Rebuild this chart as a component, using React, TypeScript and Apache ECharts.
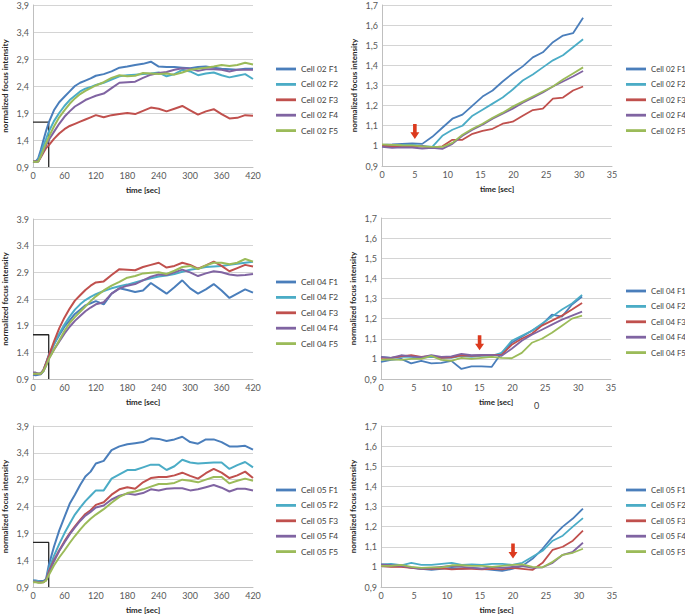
import React, { useEffect, useRef } from "react";
import * as echarts from "echarts";

// time axes
const longTimes = [0, 5, 10, 15, 20, 25, 30, 40, 50, 60, 70, 80, 90, 100, 110, 120, 135, 150, 165, 180, 195, 210, 225, 240, 255, 270, 285, 300, 315, 330, 345, 360, 375, 390, 405, 420];
const shortTimes = [0, 1.53, 3.06, 4.59, 6.12, 7.65, 9.18, 10.71, 12.24, 13.77, 15.3, 16.83, 18.36, 19.89, 21.42, 22.95, 24.48, 26.01, 27.54, 29.07, 30.6];

const longYTicks = [0.9, 1.4, 1.9, 2.4, 2.9, 3.4, 3.9];
const shortYTicks = [0.9, 1, 1.1, 1.2, 1.3, 1.4, 1.5, 1.6, 1.7];

// Cell 02, long time course
const c02L_F1 = [1.0, 1.0, 1.06, 1.22, 1.4, 1.57, 1.72, 1.95, 2.1, 2.2, 2.3, 2.4, 2.46, 2.5, 2.54, 2.59, 2.62, 2.67, 2.74, 2.76, 2.79, 2.81, 2.85, 2.76, 2.75, 2.75, 2.74, 2.73, 2.75, 2.76, 2.74, 2.72, 2.71, 2.7, 2.72, 2.72];
const c02L_F2 = [1.0, 1.0, 1.03, 1.15, 1.3, 1.42, 1.55, 1.75, 1.9, 2.03, 2.14, 2.22, 2.3, 2.35, 2.38, 2.42, 2.46, 2.52, 2.58, 2.6, 2.61, 2.62, 2.63, 2.65, 2.58, 2.62, 2.7, 2.67, 2.6, 2.63, 2.65, 2.6, 2.56, 2.59, 2.62, 2.53];
const c02L_F3 = [1.0, 1.0, 1.0, 1.08, 1.17, 1.25, 1.3, 1.42, 1.52, 1.6, 1.66, 1.7, 1.74, 1.78, 1.82, 1.86, 1.82, 1.86, 1.88, 1.9, 1.88, 1.94, 2.0, 1.98, 1.93, 1.98, 2.03, 1.95, 1.87, 1.93, 1.97, 1.88, 1.8, 1.81, 1.86, 1.85];
const c02L_F4 = [1.0, 0.99, 1.0, 1.1, 1.2, 1.3, 1.4, 1.55, 1.7, 1.83, 1.93, 2.02, 2.08, 2.14, 2.18, 2.22, 2.26, 2.36, 2.46, 2.47, 2.48, 2.55, 2.61, 2.64, 2.66, 2.7, 2.73, 2.72, 2.68, 2.71, 2.71, 2.7, 2.67, 2.7, 2.7, 2.7];
const c02L_F5 = [1.0, 0.99, 1.0, 1.1, 1.22, 1.34, 1.45, 1.65, 1.82, 1.95, 2.07, 2.17, 2.25, 2.31, 2.36, 2.41, 2.47, 2.55, 2.6, 2.58, 2.59, 2.64, 2.63, 2.62, 2.63, 2.61, 2.65, 2.7, 2.72, 2.74, 2.76, 2.79, 2.77, 2.79, 2.83, 2.8];

// Cell 04, long time course
const c04L_F1 = [0.98, 0.97, 0.98, 0.99, 1.05, 1.2, 1.35, 1.55, 1.72, 1.88, 2.0, 2.12, 2.2, 2.28, 2.32, 2.36, 2.3, 2.5, 2.6, 2.57, 2.53, 2.56, 2.7, 2.6, 2.5, 2.62, 2.75, 2.6, 2.5, 2.58, 2.68, 2.56, 2.42, 2.5, 2.58, 2.52];
const c04L_F2 = [1.0, 1.0, 1.0, 1.0, 1.07, 1.2, 1.33, 1.55, 1.75, 1.92, 2.07, 2.2, 2.3, 2.38, 2.44, 2.49, 2.55, 2.6, 2.64, 2.67, 2.71, 2.75, 2.79, 2.82, 2.84, 2.87, 2.91, 2.95, 2.97, 3.0, 3.01, 3.02, 3.04, 3.06, 3.08, 3.1];
const c04L_F3 = [1.0, 1.0, 1.0, 1.0, 1.07, 1.2, 1.33, 1.6, 1.85, 2.05, 2.22, 2.37, 2.47, 2.57, 2.65, 2.71, 2.73, 2.85, 2.96, 2.95, 2.94, 3.0, 3.04, 3.08, 2.99, 3.02, 3.08, 3.04, 2.97, 3.03, 3.1, 3.02, 2.92, 2.98, 3.04, 3.01];
const c04L_F4 = [1.02, 1.02, 1.0, 1.01, 1.05, 1.15, 1.28, 1.45, 1.6, 1.75, 1.88, 1.99, 2.08, 2.17, 2.24, 2.3, 2.34, 2.5, 2.6, 2.65, 2.68, 2.75, 2.82, 2.86, 2.85, 2.9, 2.95, 2.9, 2.83, 2.88, 2.92, 2.9, 2.86, 2.84, 2.85, 2.87];
const c04L_F5 = [1.0, 1.0, 1.0, 1.0, 1.05, 1.15, 1.27, 1.45, 1.62, 1.8, 1.95, 2.06, 2.16, 2.26, 2.36, 2.45, 2.56, 2.65, 2.72, 2.8, 2.83, 2.88, 2.89, 2.9, 2.87, 2.93, 3.0, 3.02, 2.96, 3.03, 3.08, 3.08, 3.05, 3.08, 3.15, 3.1];

// Cell 05, long time course
const c05L_F1 = [1.02, 1.02, 1.01, 1.01, 1.01, 1.05, 1.3, 1.65, 1.95, 2.2, 2.45, 2.62, 2.8, 2.96, 3.05, 3.2, 3.25, 3.45, 3.52, 3.56, 3.58, 3.6, 3.67, 3.66, 3.62, 3.65, 3.7, 3.6, 3.57, 3.65, 3.65, 3.6, 3.52, 3.52, 3.53, 3.46];
const c05L_F2 = [1.02, 1.01, 1.01, 1.0, 1.0, 1.03, 1.22, 1.48, 1.7, 1.9, 2.08, 2.25, 2.38, 2.5, 2.6, 2.7, 2.7, 2.92, 3.0, 3.08, 3.08, 3.13, 3.18, 3.18, 3.08, 3.15, 3.27, 3.22, 3.2, 3.21, 3.22, 3.22, 3.1, 3.17, 3.23, 3.13];
const c05L_F3 = [1.0, 1.0, 0.99, 0.99, 0.99, 1.03, 1.18, 1.4, 1.58, 1.75, 1.9, 2.03, 2.15, 2.26, 2.33, 2.43, 2.48, 2.62, 2.72, 2.76, 2.73, 2.85, 2.93, 2.95, 2.95, 2.98, 3.03, 2.97, 2.92, 3.02, 3.1, 3.03, 2.93, 2.98, 3.05, 2.93];
const c05L_F4 = [1.0, 1.0, 0.99, 0.99, 1.0, 1.03, 1.15, 1.38, 1.57, 1.73, 1.88, 2.01, 2.13, 2.23, 2.3, 2.38, 2.42, 2.53, 2.6, 2.64, 2.62, 2.65, 2.72, 2.7, 2.73, 2.74, 2.74, 2.7, 2.72, 2.76, 2.8, 2.75, 2.68, 2.73, 2.73, 2.7];
const c05L_F5 = [0.99, 0.99, 0.98, 0.98, 0.99, 1.02, 1.12, 1.3, 1.45, 1.58, 1.72, 1.85, 1.97, 2.08, 2.17, 2.25, 2.35, 2.47, 2.58, 2.65, 2.68, 2.72, 2.77, 2.82, 2.82, 2.84, 2.9, 2.88, 2.85, 2.9, 2.95, 2.95, 2.83, 2.88, 2.92, 2.88];

// Cell 02, short time course
const c02S_F1 = [1.005, 1.007, 1.01, 1.012, 1.01, 1.045, 1.09, 1.135, 1.155, 1.2, 1.245, 1.275, 1.32, 1.36, 1.395, 1.44, 1.465, 1.515, 1.548, 1.56, 1.637];
const c02S_F2 = [1.0, 1.003, 1.005, 1.005, 1.0, 0.995, 1.05, 1.08, 1.1, 1.15, 1.18, 1.21, 1.24, 1.28, 1.325, 1.355, 1.39, 1.425, 1.45, 1.49, 1.53];
const c02S_F3 = [1.0, 0.997, 0.998, 1.0, 0.997, 0.993, 0.998, 1.03, 1.03, 1.06, 1.075, 1.085, 1.11, 1.12, 1.15, 1.178, 1.185, 1.235, 1.24, 1.275, 1.295];
const c02S_F4 = [0.995, 0.99, 0.993, 0.992, 0.987, 0.99, 0.985, 1.01, 1.05, 1.08, 1.105, 1.135, 1.16, 1.185, 1.215, 1.24, 1.265, 1.295, 1.32, 1.345, 1.372];
const c02S_F5 = [1.007, 1.005, 1.003, 1.002, 0.998, 0.995, 0.995, 1.015, 1.055, 1.085, 1.11, 1.14, 1.165, 1.195, 1.22, 1.245, 1.27, 1.295, 1.33, 1.36, 1.39];

// Cell 04, short time course
const c04S_F1 = [0.985, 0.995, 1.0, 0.978, 0.99, 0.978, 0.98, 0.99, 0.95, 0.963, 0.963, 0.96, 1.03, 1.08, 1.11, 1.14, 1.17, 1.22, 1.21, 1.27, 1.31];
const c04S_F2 = [1.01, 1.005, 1.01, 1.01, 1.005, 1.01, 1.005, 1.005, 1.015, 1.01, 1.015, 1.015, 1.03, 1.09, 1.115, 1.14, 1.175, 1.21, 1.245, 1.275, 1.318];
const c04S_F3 = [1.005, 1.005, 1.012, 1.018, 1.01, 1.015, 1.005, 1.008, 1.018, 1.015, 1.018, 1.02, 1.02, 1.07, 1.1, 1.125, 1.165, 1.19, 1.215, 1.245, 1.278];
const c04S_F4 = [1.01, 1.005, 1.018, 1.012, 1.008, 1.018, 1.01, 1.012, 1.025, 1.018, 1.02, 1.02, 1.015, 1.05, 1.09, 1.12, 1.145, 1.17, 1.195, 1.215, 1.235];
const c04S_F5 = [0.995, 0.998, 0.995, 1.0, 1.0, 1.015, 0.995, 0.99, 1.005, 1.0, 1.005, 1.01, 1.005, 1.003, 1.03, 1.08, 1.1, 1.13, 1.165, 1.2, 1.215];

// Cell 05, short time course
const c05S_F1 = [1.01, 1.005, 1.005, 0.995, 0.99, 0.985, 0.99, 0.995, 0.99, 0.995, 0.99, 0.985, 0.98, 0.99, 1.005, 1.04, 1.09, 1.15, 1.2, 1.24, 1.29];
const c05S_F2 = [1.012, 1.015, 1.008, 1.02, 1.01, 1.01, 1.015, 1.02, 1.01, 1.012, 1.01, 1.015, 1.015, 1.01, 1.02, 1.05, 1.08, 1.13, 1.155, 1.2, 1.242];
const c05S_F3 = [1.005, 1.0, 1.0, 0.995, 0.99, 0.99, 0.993, 0.988, 0.99, 0.99, 0.988, 0.99, 0.988, 0.995, 0.99, 0.985, 1.02, 1.085, 1.1, 1.13, 1.18];
const c05S_F4 = [1.012, 1.008, 1.005, 0.998, 0.99, 0.995, 1.0, 1.005, 1.0, 0.995, 0.99, 1.0, 0.995, 1.0, 1.005, 0.995, 0.998, 1.02, 1.06, 1.075, 1.12];
const c05S_F5 = [1.005, 1.005, 1.01, 1.0, 0.995, 0.998, 0.998, 1.008, 1.008, 1.005, 1.005, 1.0, 1.005, 1.01, 1.012, 1.0, 0.998, 1.025, 1.06, 1.07, 1.09];

// stimulus box (long panels) and arrow markers (short panels)
const stimulusBox = [[0, 1.73], [30, 1.73], [30, 0.9]];
const arrowCell02 = [5, 1.072];
const arrowCell04 = [15, 1.08];
const arrowCell05 = [20, 1.079];

const fNames = ["F1", "F2", "F3", "F4", "F5"];
const colors = ["#4a7ebb", "#4bacc6", "#c0504d", "#8064a2", "#9bbb59"];

const FONT = "Lato, 'Open Sans', sans-serif";

const panels = [
  { cell: "02", long: true, series: [c02L_F1, c02L_F2, c02L_F3, c02L_F4, c02L_F5], comma: true, grid: { left: 31, top: 5, width: 222, height: 162 }, legend: { left: 276, top: 64 } },
  { cell: "02", long: false, series: [c02S_F1, c02S_F2, c02S_F3, c02S_F4, c02S_F5], comma: true, arrow: arrowCell02, grid: { left: 382, top: 5, width: 230, height: 161 }, legend: { left: 626, top: 64 } },
  { cell: "04", long: true, series: [c04L_F1, c04L_F2, c04L_F3, c04L_F4, c04L_F5], comma: false, grid: { left: 31, top: 219, width: 222, height: 160 }, legend: { left: 276, top: 277 } },
  { cell: "04", long: false, series: [c04S_F1, c04S_F2, c04S_F3, c04S_F4, c04S_F5], comma: true, arrow: arrowCell04, grid: { left: 381, top: 218, width: 230, height: 161 }, legend: { left: 626, top: 286 } },
  { cell: "05", long: true, series: [c05L_F1, c05L_F2, c05L_F3, c05L_F4, c05L_F5], comma: true, grid: { left: 31, top: 426, width: 222, height: 161 }, legend: { left: 276, top: 485 } },
  { cell: "05", long: false, series: [c05S_F1, c05S_F2, c05S_F3, c05S_F4, c05S_F5], comma: true, arrow: arrowCell05, grid: { left: 381, top: 426, width: 231, height: 161 }, legend: { left: 626, top: 485 } },
];

const arrowPath = "path://M3,0 L7,0 L7,9 L10,9 L5,16 L0,9 L3,9 Z";
const legendIcon = "path://M0,0 M0,3.6 L20,3.6 L20,6.4 L0,6.4 Z M20,10";

function buildOption() {
  const grid: any[] = [];
  const xAxis: any[] = [];
  const yAxis: any[] = [];
  const legend: any[] = [];
  const series: any[] = [];

  panels.forEach((p, i) => {
    grid.push({ ...p.grid, containLabel: false });
    const yTicks = p.long ? longYTicks : shortYTicks;
    const fmt = (v: number) => {
      const s = String(Math.round(v * 10) / 10);
      return p.comma ? s.replace(".", ",") : s;
    };
    xAxis.push({
      type: "value",
      gridIndex: i,
      min: 0,
      max: p.long ? 420 : 35,
      interval: p.long ? 60 : 5,
      name: "time [sec]",
      nameLocation: "middle",
      nameGap: 19,
      nameTextStyle: { fontFamily: FONT, fontSize: 8, fontWeight: "bold", color: "#262626" },
      axisLine: { show: true, lineStyle: { color: "#bfbfbf", width: 1 } },
      axisTick: { show: false },
      splitLine: { show: false },
      axisLabel: { fontFamily: FONT, fontSize: 9, color: "#595959", margin: 4 },
    });
    yAxis.push({
      type: "value",
      gridIndex: i,
      min: yTicks[0],
      max: yTicks[yTicks.length - 1],
      interval: p.long ? 0.5 : 0.1,
      name: "normalized focus intensity",
      nameLocation: "middle",
      nameGap: 24,
      nameTextStyle: { fontFamily: FONT, fontSize: 8, fontWeight: "bold", color: "#262626" },
      axisLine: { show: true, lineStyle: { color: "#bfbfbf", width: 1 } },
      axisTick: { show: false },
      splitLine: { show: true, lineStyle: { color: "#d4d4d4", width: 1 } },
      axisLabel: { fontFamily: FONT, fontSize: 9, color: "#595959", margin: 4, formatter: fmt },
    });
    const names = fNames.map((f) => `Cell ${p.cell} ${f}`);
    legend.push({
      orient: "vertical",
      left: p.legend.left,
      top: p.legend.top,
      padding: 0,
      itemWidth: 20,
      itemHeight: 10,
      itemGap: 5.4,
      icon: legendIcon,
      data: names,
      selectedMode: false,
      textStyle: { fontFamily: FONT, fontSize: p.long ? 8.3 : 7.8, color: "#404040", lineHeight: 10 },
    });
    const times = p.long ? longTimes : shortTimes;
    p.series.forEach((vals, k) => {
      series.push({
        type: "line",
        name: names[k],
        xAxisIndex: i,
        yAxisIndex: i,
        data: times.map((t, j) => [t, vals[j]]),
        symbol: "none",
        lineStyle: { width: p.long ? 2 : 1.8, color: colors[k] },
        itemStyle: { color: colors[k] },
        silent: true,
      });
    });
    if (p.long) {
      series.push({
        type: "line",
        name: "stimulus",
        xAxisIndex: i,
        yAxisIndex: i,
        data: stimulusBox,
        symbol: "none",
        lineStyle: { width: 1.3, color: "#262626" },
        itemStyle: { color: "#262626" },
        silent: true,
        z: 1,
      });
    }
    if (p.arrow) {
      series.push({
        type: "scatter",
        name: "arrow",
        xAxisIndex: i,
        yAxisIndex: i,
        data: [p.arrow],
        symbol: arrowPath,
        symbolSize: [9, 15],
        itemStyle: { color: "#dc3a1e", opacity: 1 },
        silent: true,
        z: 5,
      });
    }
  });

  return {
    animation: false,
    backgroundColor: "#ffffff",
    grid,
    xAxis,
    yAxis,
    legend,
    series,
    graphic: [
      {
        type: "text",
        left: 534,
        top: 401,
        style: { text: "0", fontFamily: FONT, fontSize: 9, fill: "#404040" },
      },
    ],
  };
}

export default function App() {
  const ref = useRef<HTMLDivElement>(null);
  useEffect(() => {
    const chart = echarts.init(ref.current as HTMLDivElement, null, { renderer: "svg" });
    chart.setOption(buildOption() as any);
    return () => chart.dispose();
  }, []);
  return (
    <div
      ref={ref}
      style={{ position: "absolute", left: 0, top: 0, width: 685, height: 616, background: "#fff" }}
    />
  );
}
